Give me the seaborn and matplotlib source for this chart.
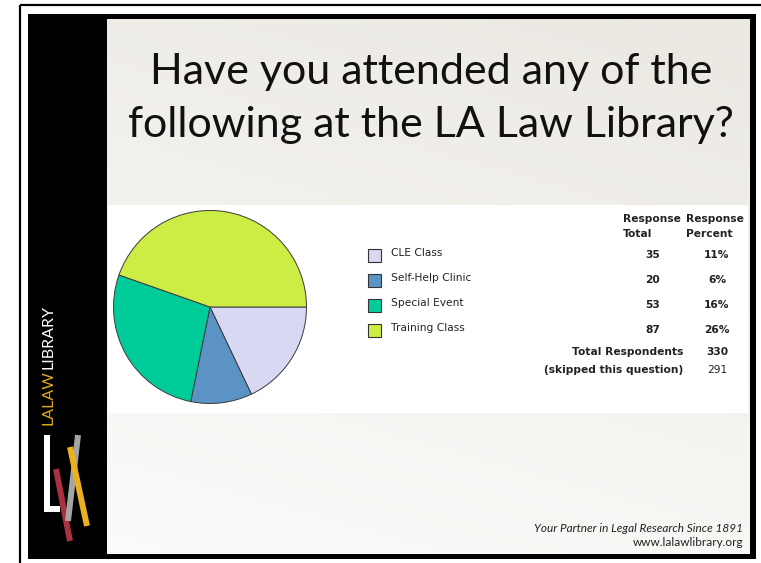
import matplotlib
matplotlib.use("Agg")
import matplotlib.pyplot as plt
import seaborn as sns
import numpy as np
from matplotlib.patches import Rectangle

# ---------------- data ----------------
categories = ["CLE Class", "Self-Help Clinic", "Special Event", "Training Class"]
response_total = [35, 20, 53, 87]
response_percent = ["11%", "6%", "16%", "26%"]
total_respondents = 330
skipped = 291
title_lines = ["Have you attended any of the", "following at the LA Law Library?"]
footer_lines = ["Your Partner in Legal Research Since 1891", "www.lalawlibrary.org"]
header_lines = [["Response", "Total"], ["Response", "Percent"]]
slice_colors = ["#D8D8F2", "#5B93C5", "#00CC99", "#CCEE44"]

sns.set_theme(style="white")
plt.rcParams["font.family"] = ["DejaVu Sans"]
palette = sns.color_palette(slice_colors)

W, H = 761, 563
fig = plt.figure(figsize=(W / 100, H / 100), dpi=100)
fig.patch.set_facecolor("white")

# background axes in pixel coordinates
bg = fig.add_axes([0, 0, 1, 1])
bg.set_xlim(0, W)
bg.set_ylim(H, 0)
bg.axis("off")

# outer thin frame lines
bg.plot([20, 20], [5, H], color="black", lw=1.6, solid_capstyle="butt")
bg.plot([20, W], [5, 5], color="black", lw=1.6, solid_capstyle="butt")

# thick inner frame
bg.add_patch(Rectangle((28, 14), 728, 545, facecolor="black", edgecolor="none"))

# content gradient
ny, nx = 100, 100
yy, xx = np.mgrid[0:1:ny * 1j, 0:1:nx * 1j]
t = np.clip(0.75 * yy + 0.25 * (1 - xx), 0, 1)
top = np.array([0.922, 0.910, 0.886])
bot = np.array([0.988, 0.986, 0.981])
img = top[None, None, :] * (1 - t[..., None]) + bot[None, None, :] * t[..., None]
bg.imshow(img, extent=[107, 750, 554, 19], aspect="auto", zorder=1, interpolation="bilinear")

# white chart panel
bg.add_patch(Rectangle((108, 205), 640, 208, facecolor="white", edgecolor="none", zorder=2))

# title
for i, line in enumerate(title_lines):
    bg.text(431, 72 + i * 53, line, ha="center", va="center", fontsize=31,
            family="Lato", color="#111111", zorder=3)

# footer
bg.text(743, 528, footer_lines[0], ha="right", va="center", fontsize=8.5,
        family="Lato", style="italic", color="#222222", zorder=3)
bg.text(743, 543, footer_lines[1], ha="right", va="center", fontsize=8.5,
        family="Lato", color="#222222", zorder=3)

# sidebar logo text (two colours, drawn end to end)
renderer = fig.canvas.get_renderer()
t1 = bg.text(48.5, 425, "LALAW", rotation=90, ha="center", va="bottom", fontsize=11.5,
             family="Lato", color="#E0A820", zorder=3, rotation_mode="default")
ext = t1.get_window_extent(renderer)
top_px = H - ext.y1  # display y to pixel-from-top
bg.text(48.5, top_px - 1, "LIBRARY", rotation=90, ha="center", va="bottom", fontsize=11.5,
        family="Lato", color="white", zorder=3)

bg.plot([46.5, 46.5, 60], [435, 509, 509], color="white", lw=4.3,
        solid_joinstyle="miter", solid_capstyle="butt", zorder=3)
bg.plot([56, 70], [469, 541], color="#A83240", lw=4.3, solid_capstyle="butt", zorder=4)
bg.plot([78, 68], [435, 521], color="#A5A5A5", lw=4.3, solid_capstyle="butt", zorder=5)
bg.plot([70, 87], [447, 526], color="#EAB020", lw=4.3, solid_capstyle="butt", zorder=6)

# pie
cx, cy, r = 210, 307, 96.5
ax = fig.add_axes([(cx - r) / W, 1 - (cy + r) / H, 2 * r / W, 2 * r / H])
ax.pie(response_total, colors=palette, startangle=0, counterclock=False,
       wedgeprops=dict(edgecolor="#3a3a3a", linewidth=0.7))
ax.set_xlim(-1.0, 1.0)
ax.set_ylim(-1.0, 1.0)
ax.set_aspect("equal")
ax.axis("off")

# legend (squares + labels)
row_y = [255, 280, 305, 330]
for yv, lab, col in zip(row_y, categories, palette):
    bg.add_patch(Rectangle((368, yv - 6.5), 13, 13, facecolor=col, edgecolor="#333333",
                           lw=0.8, zorder=3))
    bg.text(391, yv - 2, lab, ha="left", va="center", fontsize=7.7, color="#222222", zorder=3)

# table
txt = dict(fontsize=7.7, color="#222222", zorder=3)
for xh, lines in zip([623, 686], header_lines):
    for j, s in enumerate(lines):
        bg.text(xh, 219 + 15 * j, s, ha="left", va="center", fontweight="bold", **txt)
for yv, n, p in zip(row_y, response_total, response_percent):
    bg.text(660, yv, str(n), ha="right", va="center", fontweight="bold", **txt)
    bg.text(717, yv, p, ha="center", va="center", fontweight="bold", **txt)
bg.text(683, 352, "Total Respondents", ha="right", va="center", fontweight="bold", **txt)
bg.text(717, 352, str(total_respondents), ha="center", va="center", fontweight="bold", **txt)
bg.text(683, 370, "(skipped this question)", ha="right", va="center", fontweight="bold", **txt)
bg.text(717, 370, str(skipped), ha="center", va="center", **txt)

fig.savefig("out.png", dpi=100, facecolor="white")
